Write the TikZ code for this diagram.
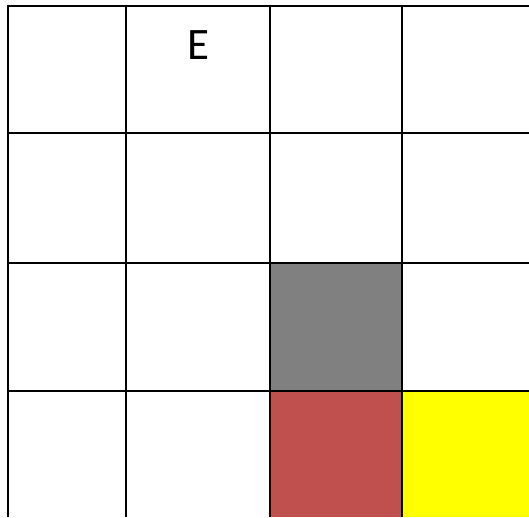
\documentclass[tikz,border=0pt]{standalone}
\usepackage{fontspec}
\setmainfont{Carlito}
\definecolor{cellred}{RGB}{192,80,77}
\definecolor{cellgray}{RGB}{128,128,128}
\definecolor{cellyellow}{RGB}{255,255,0}
\tikzset{gridline/.style={line width=2pt,black}}
\begin{document}
\begin{tikzpicture}[x=1pt,y=-1pt]
\useasboundingbox (0,0) rectangle (529,517);
\fill[white] (0,0) rectangle (529,517);
\fill[cellgray] (270,262.5) rectangle (402,391);
\fill[cellred] (270,391) rectangle (402,517);
\fill[cellyellow] (402,391) rectangle (529,517);
\foreach \y in {5.5,133,262.5,391} \draw[gridline] (7,\y) -- (529,\y);
\foreach \x in {8,126,270,402} \draw[gridline] (\x,4.5) -- (\x,517);
\node[font=\fontsize{45}{54}\selectfont, inner sep=0pt, anchor=center] (E) at (198,45.5) {E};
\end{tikzpicture}
\end{document}
